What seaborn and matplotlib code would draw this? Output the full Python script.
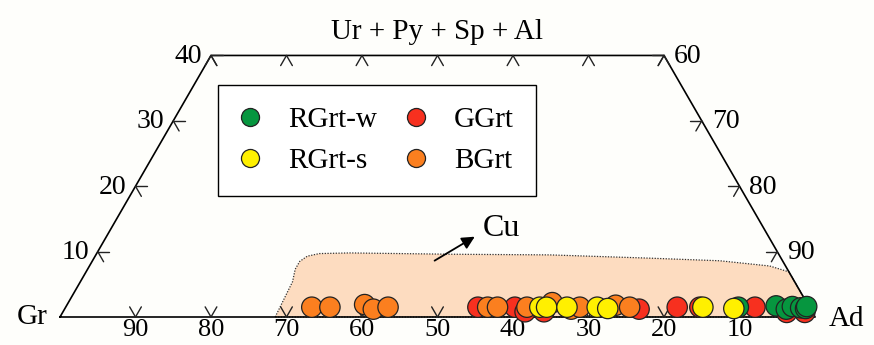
import numpy as np
import pandas as pd
import matplotlib
matplotlib.use("Agg")
import matplotlib.pyplot as plt
from matplotlib.lines import Line2D
import seaborn as sns

sns.set_theme(style="white")
plt.rcParams['font.family'] = ['Liberation Serif', 'DejaVu Serif']
plt.rcParams['text.color'] = 'black'

# ---------------- data (Gr %, Ur+Py+Sp+Al %) ----------------
GGRT_GR  = [43.9, 39.0, 38.0, 35.5, 22.7, 17.5, 14.5, 7.2, 3.4, 1.0]
GGRT_TOP = [1.5, 1.5, 0.8, 0.8, 1.2, 1.5, 1.5, 1.5, 0.7, 0.7]

BGRT_GR  = [65.9, 63.5, 58.7, 57.9, 55.8, 42.6, 41.3, 37.4, 33.7, 31.7, 30.4, 25.5, 23.8]
BGRT_TOP = [1.5, 1.5, 1.9, 1.2, 1.5, 1.5, 1.5, 1.5, 2.2, 1.2, 1.5, 1.8, 1.5]

RGRTW_GR  = [9.4, 4.3, 3.2, 2.2, 1.2, 0.6, 0.3]
RGRTW_TOP = [1.5, 1.7, 1.2, 1.6, 1.4, 1.3, 1.6]

RGRTS_GR  = [35.7, 34.8, 32.1, 28.1, 26.8, 14.1, 10.1]
RGRTS_TOP = [1.5, 1.5, 1.5, 1.5, 1.3, 1.5, 1.3]

GROUPS = ["GGrt", "BGrt", "RGrt-w", "RGrt-s"]
COLORS = {"RGrt-w": "#06963f", "GGrt": "#f7301f", "RGrt-s": "#fff000", "BGrt": "#fb7f1f"}
LEGEND_ORDER = ["RGrt-w", "RGrt-s", "GGrt", "BGrt"]

# Cu field boundary (Gr %, top %)
CU_GR  = [71.5, 66.5, 65.2, 64.0, 62.6, 60.8, 56.7, 43.5, 30.4, 17.4, 8.3, 2.1, 0.0, 0.0]
CU_TOP = [0.0, 5.4, 7.3, 8.5, 9.3, 9.7, 9.8, 9.6, 9.5, 9.0, 8.6, 7.8, 6.9, 0.0]

BOTTOM_TICKS = [90, 80, 70, 60, 50, 40, 30, 20, 10]   # Gr
SIDE_TICKS = [10, 20, 30, 40]                          # top component
TOP_TICKS = [60, 50, 40, 30, 20, 10, 0]                # Gr along top edge
TMAX = 40

H = np.sqrt(3) / 2


def tern(gr, top):
    gr = np.asarray(gr, float)
    top = np.asarray(top, float)
    ad = 100 - gr - top
    return ad + top / 2, top * H


PX = 7.55  # pixels per unit
fig = plt.figure(figsize=(8.74, 3.45), dpi=100)
fig.patch.set_facecolor("#fefefb")
ax = fig.add_axes([0, 0, 1, 1])
ax.set_facecolor("#fefefb")
ax.set_xlim(-60 / PX, (874 - 60) / PX)
ax.set_ylim(-(345 - 317) / PX, 317 / PX)
ax.axis("off")

# Cu field
cx, cy = tern(CU_GR, CU_TOP)
ax.fill(cx, cy, facecolor="#fddcc0", edgecolor="none", zorder=1)
ax.plot(np.r_[cx, cx[0]], np.r_[cy, cy[0]], ls=(0, (1, 1.2)), color="#333333", lw=0.9, zorder=1.5)

# triangle frame (truncated)
fx, fy = tern([100, 60, 0, 0, 100], [0, TMAX, TMAX, 0, 0])
ax.plot(fx, fy, color="black", lw=1.2, zorder=2)

L = 1.55  # tick length in %
def seg(g0, t0, g1, t1):
    x, y = tern([g0, g1], [t0, t1])
    ax.plot(x, y, color="#222222", lw=1.0, zorder=2)

for g in BOTTOM_TICKS:
    seg(g, 0, g, L)                 # constant Gr (up-left)
    seg(g, 0, g - L, L)             # constant Ad (up-right)
for t in SIDE_TICKS:
    g = 100 - t
    seg(g, t, g - L, t)             # left edge: horizontal
    seg(g, t, g, t - L)             # left edge: constant Gr
    seg(0, t, L, t)                 # right edge: horizontal
    seg(0, t, 0 + L, t - L)         # right edge: constant Ad
for g in TOP_TICKS:
    seg(g, TMAX, g, TMAX - L)
    seg(g, TMAX, g + L, TMAX - L)

fs = 20
# tick labels
for g in BOTTOM_TICKS:
    x, y = tern(g, 0)
    ax.text(x, y - 2 / PX, f"{g}", ha="center", va="top", fontsize=fs - 1)
for t in SIDE_TICKS:
    x, y = tern(100 - t, t)
    ax.text(x - 9 / PX, y - 1 / PX, f"{t}", ha="right", va="center", fontsize=fs)
    x, y = tern(0, t)
    ax.text(x + 10 / PX, y - 1 / PX, f"{100 - t}", ha="left", va="center", fontsize=fs)

x, y = tern(30, TMAX)
ax.text(x, y + 23 / PX, "Ur + Py + Sp + Al", ha="center", va="center", fontsize=fs + 1)
x, y = tern(100, 0)
ax.text(x - 12 / PX, y, "Gr", ha="right", va="center", fontsize=fs + 1)
x, y = tern(0, 0)
ax.text(x + 14 / PX, y - 2 / PX, "Ad", ha="left", va="center", fontsize=fs + 1)

# Cu arrow and label
ax.annotate("", xy=tern(38.5, 12.5), xytext=tern(46.5, 8.4),
            arrowprops=dict(arrowstyle="-|>", color="black", lw=1.3, mutation_scale=19), zorder=2)
x, y = tern(37.2, 13.5)
ax.text(x, y, "Cu", ha="left", va="center", fontsize=fs + 3)

# data points
frames = []
for name, gr, tp in [("GGrt", GGRT_GR, GGRT_TOP), ("BGrt", BGRT_GR, BGRT_TOP),
                     ("RGrt-w", RGRTW_GR, RGRTW_TOP), ("RGrt-s", RGRTS_GR, RGRTS_TOP)]:
    X, Y = tern(gr, tp)
    frames.append(pd.DataFrame({"X": X, "Y": Y, "group": name}))
df = pd.concat(frames, ignore_index=True)

sns.scatterplot(data=df, x="X", y="Y", hue="group", hue_order=GROUPS, palette=COLORS,
                s=215, edgecolor="#222222", linewidth=0.9, legend=False, ax=ax, zorder=3)

handles = [Line2D([], [], ls="none", marker="o", markersize=13, markerfacecolor=COLORS[n],
                  markeredgecolor="#222222", markeredgewidth=0.9) for n in LEGEND_ORDER]
leg = ax.legend(handles, LEGEND_ORDER, ncol=2, loc="upper left",
                bbox_to_anchor=(218 / 874, 1 - 85 / 345), fontsize=fs + 1,
                frameon=True, fancybox=False, edgecolor="black", framealpha=1,
                handlelength=0.7, handletextpad=0.95, columnspacing=1.0,
                borderpad=0.75, labelspacing=0.5, borderaxespad=0)
leg.get_frame().set_linewidth(1.0)
leg.set_zorder(4)

fig.savefig("out.png", dpi=100, facecolor=fig.get_facecolor())
